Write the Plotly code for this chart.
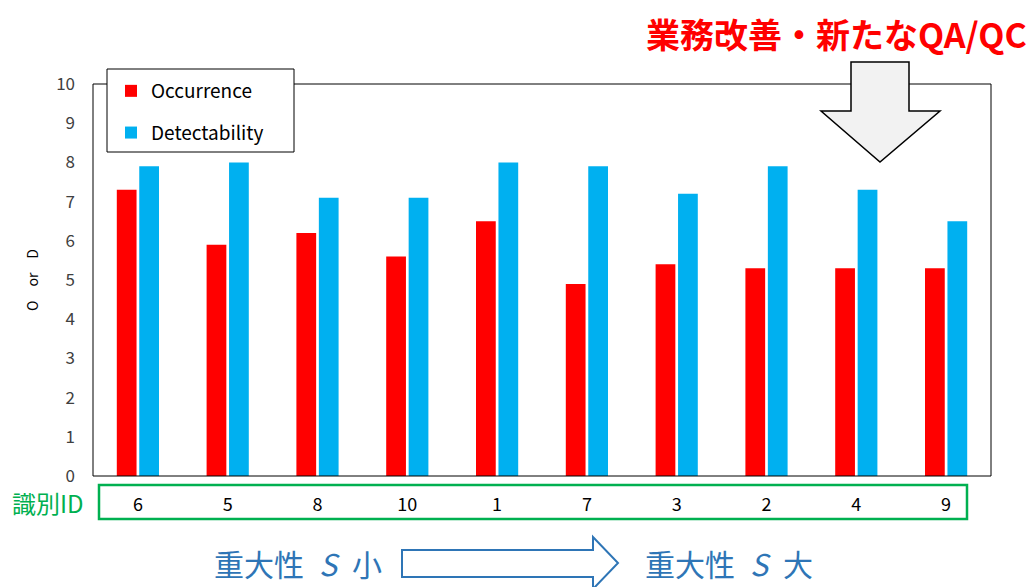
import plotly.graph_objects as go

# ---- data ----
ids = ["6", "5", "8", "10", "1", "7", "3", "2", "4", "9"]
occurrence = [7.3, 5.9, 6.2, 5.6, 6.5, 4.9, 5.4, 5.3, 5.3, 5.3]
detectability = [7.9, 8.0, 7.1, 7.1, 8.0, 7.9, 7.2, 7.9, 7.3, 6.5]
y_ticks = list(range(0, 11))

FONT = "Noto Sans CJK JP"
W, H = 1030, 587
L, R, T, B = 93, 39, 84, 111
PW, PH = W - L - R, H - T - B


def px(x):
    return (x - L) / PW


def py(y):
    return (H - B - y) / PH


fig = go.Figure()
fig.add_trace(go.Bar(x=ids, y=occurrence, name="Occurrence",
                     marker=dict(color="#FF0000", line=dict(width=0)),
                     legendgroup="o"))
fig.add_trace(go.Bar(x=ids, y=detectability, name="Detectability",
                     marker=dict(color="#00B0F0", line=dict(width=0)),
                     legendgroup="d"))

shapes = []
# plot frame
shapes.append(dict(type="rect", xref="paper", yref="paper", x0=0, x1=1, y0=0, y1=1,
                   line=dict(color="#000000", width=1), layer="above"))
# legend box (white, masks the frame)
shapes.append(dict(type="rect", xref="paper", yref="paper",
                   x0=px(107), x1=px(294), y0=py(69), y1=py(152),
                   fillcolor="white", line=dict(color="#000000", width=1),
                   layer="above"))
# green ID box
shapes.append(dict(type="rect", xref="paper", yref="paper",
                   x0=px(99), x1=px(967), y0=py(485), y1=py(519),
                   line=dict(color="#00B050", width=2.5)))
# down block arrow (top right)
pts = [(851, 62), (909, 62), (909, 111), (940, 111), (880, 162),
       (821, 111), (851, 111)]
path = "M " + " L ".join(f"{px(a):.5f},{py(b):.5f}" for a, b in pts) + " Z"
shapes.append(dict(type="path", xref="paper", yref="paper", path=path,
                   fillcolor="#F2F2F2", line=dict(color="#000000", width=1.5),
                   layer="above"))
# hollow right arrow (bottom)
pts2 = [(402, 550), (593, 550), (593, 537), (618, 563), (593, 589),
        (593, 577), (402, 577)]
path2 = "M " + " L ".join(f"{px(a):.5f},{py(b):.5f}" for a, b in pts2) + " Z"
shapes.append(dict(type="path", xref="paper", yref="paper", path=path2,
                   fillcolor="rgba(0,0,0,0)", line=dict(color="#2E75B6", width=2)))

annotations = [
    dict(text="<b>業務改善・新たなQA/QC</b>", xref="paper", yref="paper",
         x=px(1029), y=py(33), xanchor="right", yanchor="middle", showarrow=False,
         font=dict(family=FONT, size=34, color="#FF0000")),
    dict(text="識別ID", xref="paper", yref="paper",
         x=px(10), y=py(502), xanchor="left", yanchor="middle", showarrow=False,
         font=dict(family=FONT, size=24, color="#00B050")),
    dict(text="重大性\u2002<i>S</i>\u2002小", xref="paper", yref="paper",
         x=px(212), y=py(563), xanchor="left", yanchor="middle", showarrow=False,
         font=dict(family=FONT, size=30, color="#2E75B6")),
    dict(text="重大性\u2002<i>S</i>\u2002大", xref="paper", yref="paper",
         x=px(643), y=py(563), xanchor="left", yanchor="middle", showarrow=False,
         font=dict(family=FONT, size=30, color="#2E75B6")),
]

fig.update_layout(
    width=W, height=H,
    margin=dict(l=L, r=R, t=T, b=B, pad=0),
    paper_bgcolor="white", plot_bgcolor="white",
    barmode="group", bargap=0.5, bargroupgap=0.12,
    font=dict(family=FONT, color="#000000"),
    shapes=shapes, annotations=annotations,
    legend=dict(x=px(111), y=py(72), xanchor="left", yanchor="top",
                bgcolor="rgba(0,0,0,0)", borderwidth=0,
                font=dict(family=FONT, size=19, color="#000000"),
                tracegroupgap=14, traceorder="grouped"),
    showlegend=True,
)
fig.update_xaxes(type="category", showgrid=False, showline=False, zeroline=False,
                 ticks="outside", ticklen=12, tickcolor="rgba(0,0,0,0)",
                 tickfont=dict(family=FONT, size=18, color="#000000"))
fig.update_yaxes(range=[0, 10], tickvals=y_ticks, showgrid=False, zeroline=False,
                 showline=False, ticks="", ticklabelstandoff=17,
                 tickfont=dict(family=FONT, size=17, color="#404040"),
                 title=dict(text="O　or　D", standoff=14,
                            font=dict(family=FONT, size=14, color="#000000")))

fig.write_html("out.html")
